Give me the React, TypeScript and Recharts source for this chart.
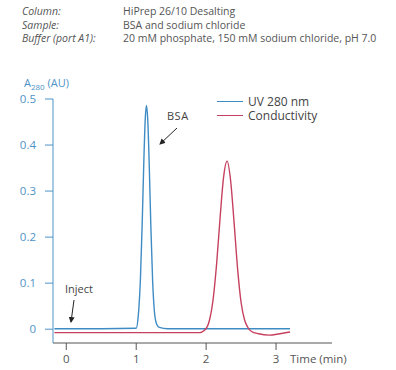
import React from 'react';
import { LineChart, Line, XAxis, YAxis } from 'recharts';

// UV 280 nm trace (time in min, absorbance in AU)
const uvTime = [-0.17, 0.5, 1.0, 1.03, 1.06, 1.085, 1.11, 1.13, 1.147, 1.165, 1.185, 1.21, 1.235, 1.26, 1.29, 1.33, 1.45, 2.0, 3.2];
const uvValue = [0.001, 0.001, 0.002, 0.03, 0.108, 0.226, 0.37, 0.459, 0.486, 0.455, 0.364, 0.22, 0.104, 0.039, 0.012, 0.004, 0.001, 0.001, 0.001];

// Conductivity trace, same axes
const condTime = [-0.17, 1.0, 1.9, 2.0, 2.05, 2.1, 2.15, 2.2, 2.25, 2.3, 2.35, 2.4, 2.45, 2.5, 2.55, 2.6, 2.65, 2.75, 2.9, 3.05, 3.2];
const condValue = [-0.0075, -0.0075, -0.0075, 0.0016, 0.021, 0.065, 0.142, 0.243, 0.331, 0.365, 0.323, 0.231, 0.131, 0.058, 0.02, 0.003, -0.005, -0.01, -0.013, -0.01, -0.006];

const xTicks = [0, 1, 2, 3];
const yTicks = [0, 0.1, 0.2, 0.3, 0.4, 0.5];

const headerLabels = ['Column:', 'Sample:', 'Buffer (port A1):'];
const headerValues = ['HiPrep 26/10 Desalting', 'BSA and sodium chloride', '20 mM phosphate, 150 mM sodium chloride, pH 7.0'];

const seriesNames = ['UV 280 nm', 'Conductivity'];

const uvData = uvTime.map((t, i) => ({ t, v: uvValue[i] }));
const condData = condTime.map((t, i) => ({ t, v: condValue[i] }));

const BLUE = '#3f8cc4';
const RED = '#c6415f';
const AXIS_BLUE = '#4f93c6';
const FONT = '"Open Sans", sans-serif';

export default function App() {
  const colors = [BLUE, RED];
  return (
    <div style={{ position: 'absolute', left: 0, top: 0, width: 396, height: 370, background: '#fff', fontFamily: FONT, overflow: 'hidden' }}>
      {headerLabels.map((label, i) => (
        <React.Fragment key={label}>
          <div style={{ position: 'absolute', left: 22, top: 5 + i * 13.5, fontSize: 10.5, lineHeight: '13px', fontStyle: 'italic', color: '#555', whiteSpace: 'nowrap' }}>{label}</div>
          <div style={{ position: 'absolute', left: 123, top: 5 + i * 13.5, fontSize: 10.5, lineHeight: '13px', color: '#555', whiteSpace: 'nowrap' }}>{headerValues[i]}</div>
        </React.Fragment>
      ))}

      <LineChart width={396} height={370} margin={{ top: 99, right: 64, bottom: 0, left: 13 }}>
        <XAxis
          type="number"
          dataKey="t"
          domain={[-0.19, 3.8]}
          ticks={xTicks}
          allowDataOverflow
          stroke="#555"
          tickSize={7}
          tickMargin={5}
          height={27}
          tick={{ fill: '#555', fontSize: 11.5, fontFamily: FONT }}
        />
        <YAxis
          type="number"
          dataKey="v"
          domain={[-0.03, 0.5]}
          ticks={yTicks}
          allowDataOverflow
          width={40}
          stroke={AXIS_BLUE}
          tickSize={8}
          tickMargin={9}
          tick={{ fill: AXIS_BLUE, fontSize: 11.5, fontFamily: FONT }}
        />
        <Line data={uvData} dataKey="v" type="monotone" stroke={BLUE} strokeWidth={1.4} dot={false} isAnimationActive={false} />
        <Line data={condData} dataKey="v" type="monotone" stroke={RED} strokeWidth={1.4} dot={false} isAnimationActive={false} />
      </LineChart>

      {/* y axis title */}
      <div style={{ position: 'absolute', left: 24, top: 76, fontSize: 11, lineHeight: '13px', color: AXIS_BLUE, whiteSpace: 'nowrap' }}>
        A<sub style={{ fontSize: 8, lineHeight: 0 }}>280</sub> (AU)
      </div>
      {/* x axis title */}
      <div style={{ position: 'absolute', left: 290, top: 352, fontSize: 11.5, lineHeight: '14px', color: '#555', whiteSpace: 'nowrap' }}>Time (min)</div>

      {/* legend */}
      {seriesNames.map((name, i) => (
        <div key={name} style={{ position: 'absolute', left: 217, top: 95 + i * 14, height: 13, display: 'flex', alignItems: 'center', whiteSpace: 'nowrap' }}>
          <span style={{ display: 'inline-block', width: 26, height: 1.5, background: colors[i], marginRight: 5 }} />
          <span style={{ fontSize: 12, lineHeight: '13px', color: '#444' }}>{name}</span>
        </div>
      ))}

      {/* annotations */}
      <div style={{ position: 'absolute', left: 167, top: 109, fontSize: 11, lineHeight: '13px', color: '#444', letterSpacing: 0.5 }}>BSA</div>
      <div style={{ position: 'absolute', left: 65, top: 282, fontSize: 11, lineHeight: '13px', color: '#444' }}>Inject</div>
      <svg width={396} height={370} style={{ position: 'absolute', left: 0, top: 0, pointerEvents: 'none' }}>
        <defs>
          <marker id="ah" markerWidth="6" markerHeight="6" refX="5" refY="3" orient="auto">
            <path d="M0,0 L6,3 L0,6 Z" fill="#222" />
          </marker>
        </defs>
        <line x1={177} y1={128} x2={160} y2={144} stroke="#222" strokeWidth={1} markerEnd="url(#ah)" />
        <line x1={74} y1={300} x2={71} y2={322} stroke="#222" strokeWidth={1} markerEnd="url(#ah)" />
      </svg>
    </div>
  );
}
